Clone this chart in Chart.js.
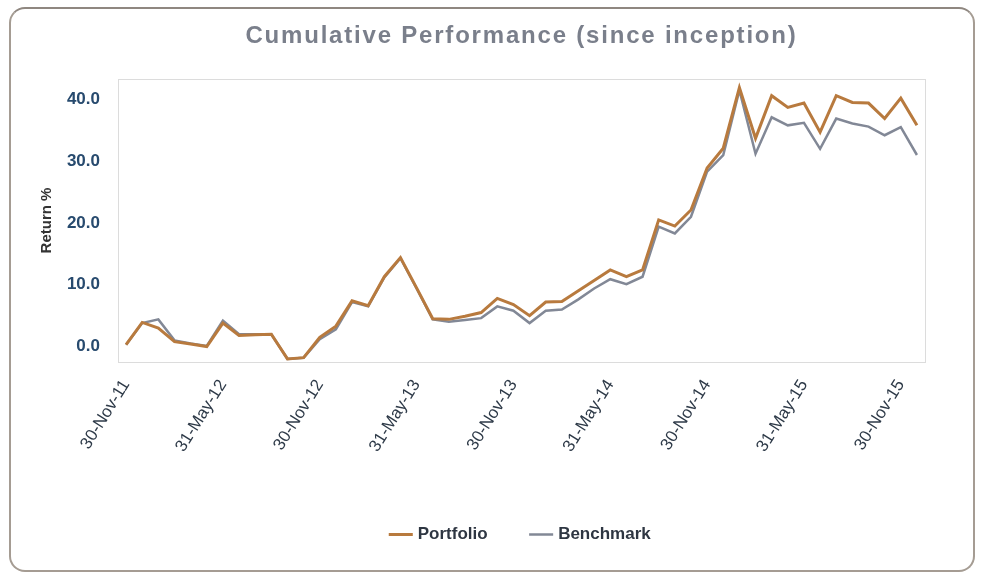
<!DOCTYPE html>
<html>
<head>
<meta charset="utf-8">
<script src="https://cdn.jsdelivr.net/npm/chart.js@4.4.1/dist/chart.umd.min.js"></script>
<style>
  html, body { margin: 0; padding: 0; background: #ffffff; }
  #wrap { position: relative; width: 982px; height: 579px; }
  #frame { position: absolute; left: 9px; top: 7px; width: 962px; height: 561px;
           border: 2px solid #a59c93; border-top-color: #8f8780; border-radius: 16px; pointer-events: none; }
  canvas { position: absolute; left: 0; top: 0; }
</style>
</head>
<body>
<div id="wrap">
  <canvas id="c" width="982" height="579"></canvas>
  <div id="frame"></div>
</div>
<script>
// Month-end dates, 30-Nov-11 .. 31-Dec-15
const categories = [
  "30-Nov-11","31-Dec-11","31-Jan-12","29-Feb-12","31-Mar-12","30-Apr-12","31-May-12","30-Jun-12","31-Jul-12","31-Aug-12","30-Sep-12","31-Oct-12",
  "30-Nov-12","31-Dec-12","31-Jan-13","28-Feb-13","31-Mar-13","30-Apr-13","31-May-13","30-Jun-13","31-Jul-13","31-Aug-13","30-Sep-13","31-Oct-13",
  "30-Nov-13","31-Dec-13","31-Jan-14","28-Feb-14","31-Mar-14","30-Apr-14","31-May-14","30-Jun-14","31-Jul-14","31-Aug-14","30-Sep-14","31-Oct-14",
  "30-Nov-14","31-Dec-14","31-Jan-15","28-Feb-15","31-Mar-15","30-Apr-15","31-May-15","30-Jun-15","31-Jul-15","31-Aug-15","30-Sep-15","31-Oct-15",
  "30-Nov-15","31-Dec-15"
];
const portfolio = [
  0.3, 3.9, 3.0, 0.8, 0.4, 0.0, 3.8, 1.8, 1.9, 2.0, -2.0, -1.8,
  1.5, 3.3, 7.4, 6.6, 11.3, 14.4, 9.5, 4.5, 4.4, 4.9, 5.5, 7.8,
  6.8, 5.0, 7.2, 7.3, 9.0, 10.7, 12.4, 11.3, 12.4, 20.5, 19.5, 22.1,
  28.9, 32.1, 41.9, 33.7, 40.6, 38.7, 39.4, 34.7, 40.6, 39.5, 39.4, 36.9,
  40.2, 35.8
];
const benchmark = [
  0.3, 3.8, 4.4, 1.0, 0.5, 0.1, 4.2, 2.0, 2.0, 2.0, -2.0, -1.8,
  1.2, 2.8, 7.2, 6.5, 11.2, 14.3, 9.4, 4.4, 4.0, 4.3, 4.6, 6.5,
  5.8, 3.8, 5.8, 6.0, 7.6, 9.4, 10.9, 10.1, 11.3, 19.4, 18.3, 21.0,
  28.3, 31.0, 41.5, 31.2, 37.1, 35.8, 36.2, 32.0, 36.9, 36.1, 35.6, 34.2,
  35.5, 31.0
];
const yTicks = [0, 10, 20, 30, 40];
const labelEvery = 6;
const FONT = '"Liberation Sans", Arial, sans-serif';

const frameAndTitle = {
  id: 'frameAndTitle',
  beforeDatasetsDraw(chart) {
    const a = chart.chartArea, ctx = chart.ctx;
    ctx.save();
    ctx.strokeStyle = '#dcdcdc';
    ctx.lineWidth = 1;
    ctx.strokeRect(a.left + 0.5, a.top + 0.5, a.right - a.left, a.bottom - a.top);
    ctx.restore();
  },
  afterDraw(chart) {
    const a = chart.chartArea, ctx = chart.ctx;
    ctx.save();
    ctx.fillStyle = '#7a7f8b';
    ctx.font = 'bold 24px ' + FONT;
    if ('letterSpacing' in ctx) ctx.letterSpacing = '1.8px';
    ctx.textAlign = 'center';
    ctx.textBaseline = 'middle';
    ctx.fillText('Cumulative Performance (since inception)', (a.left + a.right) / 2, 36);
    ctx.restore();
  }
};

new Chart(document.getElementById('c'), {
  type: 'line',
  data: {
    labels: categories,
    datasets: [
      { label: 'Portfolio', data: portfolio, borderColor: '#b87a3e', backgroundColor: '#b87a3e',
        borderWidth: 3, pointRadius: 0, tension: 0 },
      { label: 'Benchmark', data: benchmark, borderColor: '#828896', backgroundColor: '#828896',
        borderWidth: 2.5, pointRadius: 0, tension: 0 }
    ]
  },
  options: {
    responsive: false,
    animation: false,
    devicePixelRatio: 1,
    layout: { padding: { top: 79, right: 57, bottom: 26, left: 0 } },
    plugins: {
      title: { display: false },
      tooltip: { enabled: false },
      legend: {
        position: 'bottom',
        fullSize: false,
        labels: {
          usePointStyle: true, pointStyle: 'line', boxWidth: 24, padding: 45,
          color: '#2e3642',
          font: { family: FONT, size: 17, weight: 'bold' }
        }
      }
    },
    scales: {
      x: {
        offset: true,
        grid: { display: false, drawTicks: false },
        border: { display: false },
        afterFit(scale) { scale.height = 119; },
        ticks: {
          autoSkip: false, maxRotation: 58, minRotation: 58, padding: 14,
          color: '#2e3a48',
          font: { family: FONT, size: 17 },
          callback(value, index) { return index % labelEvery === 0 ? categories[index] : null; }
        }
      },
      y: {
        min: -2.5, max: 43.3,
        grid: { display: false, drawTicks: false },
        border: { display: false },
        afterFit(scale) { scale.width = 118; },
        afterBuildTicks(scale) { scale.ticks = yTicks.map(v => ({ value: v })); },
        title: {
          display: true, text: 'Return %', color: '#333333',
          padding: { top: 38, bottom: 0 },
          font: { family: FONT, size: 15, weight: 'bold' }
        },
        ticks: {
          padding: 18, color: '#274a6e',
          font: { family: FONT, size: 17, weight: 'bold' },
          callback(value) { return Number(value).toFixed(1); }
        }
      }
    }
  },
  plugins: [frameAndTitle]
});
</script>
</body>
</html>
